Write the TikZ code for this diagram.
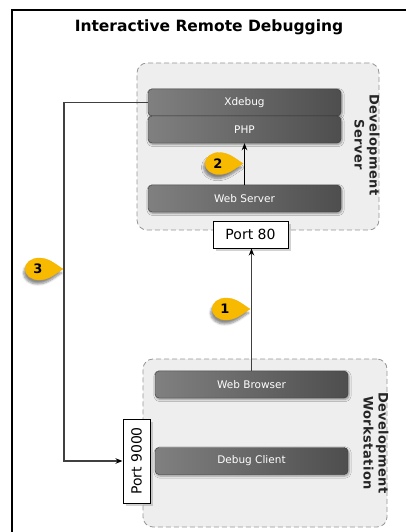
\documentclass[tikz,border=0pt]{standalone}
\usepackage{fontspec}
\setmainfont{DejaVu Sans}
\usetikzlibrary{shadows,shadows.blur,arrows.meta}
\definecolor{cyellow}{RGB}{247,186,0}
\definecolor{grpfill}{RGB}{238,238,238}
\definecolor{grpline}{RGB}{150,150,150}
\definecolor{boxL}{RGB}{128,128,128}
\definecolor{boxR}{RGB}{78,78,78}
\tikzset{
  layer/.style={rectangle, rounded corners=4pt, minimum width=193pt, minimum height=27pt,
    left color=boxL, right color=boxR, draw=boxR!70!black, line width=0.4pt, text=white,
    font=\fontsize{10.5}{12}\selectfont,
    blur shadow={shadow xshift=1pt, shadow yshift=-1.5pt, shadow blur steps=5, shadow opacity=40}},
  group/.style={rectangle, rounded corners=10pt, draw=grpline, dash pattern=on 5pt off 3pt,
    fill=grpfill, line width=0.8pt},
  port/.style={rectangle, draw=black, line width=1pt, fill=white, inner sep=0pt,
    font=\fontsize{14}{16}\selectfont, minimum height=27pt,
    drop shadow={shadow xshift=3pt, shadow yshift=-3pt, opacity=0.35}},
  grplabel/.style={font=\fontsize{13}{15}\selectfont\bfseries\addfontfeatures{LetterSpace=3},
    text=black!85, align=center, rotate=-90, inner sep=0pt},
  conn/.style={line width=1.2pt, draw=black!75},
  tipped/.style={-{Stealth[length=7pt,width=5.5pt,black]}},
  badge/.style={fill=cyellow, draw=cyellow!85!orange, line width=0.3pt,
    blur shadow={shadow xshift=-1.5pt, shadow yshift=-4pt, shadow blur steps=6, shadow opacity=45}},
  badgetext/.style={font=\fontsize{13}{15}\selectfont\bfseries, inner sep=0pt},
}
\newcommand\mkbadge[4]{% name, cx, cy, number
  \path[badge] (#2+24,#3) .. controls (#2+16,#3-5) and (#2+10,#3-11) .. (#2,#3-11)
    arc[start angle=270, end angle=90, x radius=14, y radius=11]
    .. controls (#2+10,#3+11) and (#2+16,#3+5) .. (#2+24,#3) -- cycle;
  \node[badgetext] (#1) at (#2-1,#3) {#4};
}
\begin{document}
\begin{tikzpicture}[x=1pt, y=-1pt]
  \useasboundingbox (0,0) rectangle (406,532);
  % frame
  \draw[line width=1.3pt] (406,10) -- (12,10) -- (12,532);
  \node (title) at (209,27) {\fontsize{15.5}{18}\selectfont\bfseries Interactive Remote Debugging};

  % groups
  \node[group, minimum width=242pt, minimum height=167pt] (server) at (258,146.5) {};
  \node[group, minimum width=244pt, minimum height=168pt] (ws) at (265,443) {};
  \node[grplabel] (serverlbl) at (367,145) {Development\\Server};
  \node[grplabel] (wslbl) at (376,443) {Development\\Workstation};

  % layers
  \node[layer] (xdebug) at (244.5,102.5) {Xdebug};
  \node[layer] (php) at (244.5,129.5) {PHP};
  \node[layer] (webserver) at (244.5,198.5) {Web Server};
  \node[layer] (browser) at (251.5,384.5) {Web Browser};
  \node[layer] (client) at (251.5,461) {Debug Client};

  % ports
  \node[port, minimum width=75pt] (port80) at (250.5,234.5) {Port 80};
  \node[port, minimum width=84pt, rotate=90] (port9000) at (136.5,461) {Port 9000};

  % connectors
  \coordinate (bend) at (64,102.5);
  \draw[conn, tipped, draw=black] (webserver.north) -- (php.south);
  \draw[conn, tipped] (browser.north) -- (browser.north |- port80.south);
  \draw[conn, tipped] (xdebug.west) -- (bend) |- (port9000.north);

  % badges
  \mkbadge{b1}{226}{309}{1}
  \mkbadge{b2}{219}{163.5}{2}
  \mkbadge{b3}{39}{269}{3}
\end{tikzpicture}
\end{document}
